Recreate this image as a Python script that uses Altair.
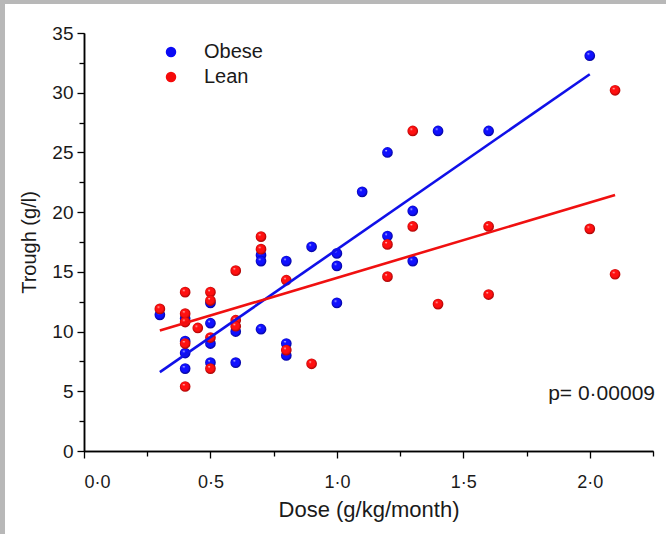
import altair as alt
import pandas as pd

# ---- data ----
obese_dose = [0.3, 0.4, 0.4, 0.4, 0.4, 0.5, 0.5, 0.5, 0.5, 0.6, 0.6, 0.7, 0.7, 0.7,
              0.8, 0.8, 0.8, 0.9, 1.0, 1.0, 1.0, 1.1, 1.2, 1.2, 1.3, 1.3, 1.4, 1.6, 2.0]
obese_trough = [11.4, 11.1, 9.2, 8.2, 6.9, 12.4, 10.7, 9.0, 7.4, 10.0, 7.4, 16.4, 15.9, 10.2,
                15.9, 9.0, 8.0, 17.1, 16.55, 15.5, 12.4, 21.7, 25.0, 18.0, 20.1, 15.9, 26.8, 26.8, 33.1]
lean_dose = [0.3, 0.4, 0.4, 0.4, 0.4, 0.4, 0.45, 0.5, 0.5, 0.5, 0.5, 0.6, 0.6, 0.6,
             0.7, 0.7, 0.8, 0.8, 0.9, 1.2, 1.2, 1.3, 1.3, 1.4, 1.6, 1.6, 2.0, 2.1, 2.1]
lean_trough = [11.9, 13.3, 11.5, 10.8, 9.0, 5.4, 10.3, 13.3, 12.6, 9.5, 6.9, 15.1, 10.95, 10.45,
               17.95, 16.9, 14.3, 8.45, 7.3, 17.3, 14.6, 26.8, 18.8, 12.3, 18.8, 13.1, 18.6, 30.2, 14.8]

fit_group = ["Obese", "Obese", "Lean", "Lean"]
fit_dose = [0.3, 2.0, 0.3, 2.1]
fit_trough = [6.6, 31.55, 10.08, 21.44]

groups = ["Obese", "Lean"]
colors = ["#0a0af5", "#f50a0a"]

x_major = [0, 0.5, 1.0, 1.5, 2.0]
x_minor = [0.25, 0.75, 1.25, 1.75, 2.25]
y_major = [0, 5, 10, 15, 20, 25, 30, 35]
y_minor = [2.5, 7.5, 12.5, 17.5, 22.5, 27.5, 32.5]
p_label = "p= 0·00009"

FONT = "Liberation Sans"

pts = pd.DataFrame({
    "dose": obese_dose + lean_dose,
    "trough": obese_trough + lean_trough,
    "group": ["Obese"] * len(obese_dose) + ["Lean"] * len(lean_dose),
})
obese_df = pd.DataFrame({"dose": obese_dose, "trough": obese_trough})
lean_df = pd.DataFrame({"dose": lean_dose, "trough": lean_trough})
fit = pd.DataFrame({"dose": fit_dose, "trough": fit_trough, "group": fit_group})

xscale = alt.Scale(domain=[0, 2.25], nice=False, zero=False)
yscale = alt.Scale(domain=[0, 35], nice=False, zero=False)

common_axis = dict(domainColor="black", domainWidth=1.5, tickColor="black",
                   tickWidth=1.3, grid=False, zindex=1, labelFont=FONT,
                   titleFont=FONT, labelColor="#1a1a1a", titleColor="#1a1a1a",
                   titleFontWeight="normal")

x_major_axis = alt.Axis(values=x_major, orient="bottom", tickSize=7,
                        labelExpr="replace(format(datum.value, '.1f'), '.', '·')",
                        labelFontSize=18, labelPadding=15,
                        title="Dose (g/kg/month)", titleFontSize=22, titlePadding=8,
                        **common_axis)
y_major_axis = alt.Axis(values=y_major, orient="left", tickSize=7,
                        labelFontSize=19, labelPadding=4, format="d",
                        title="Trough (g/l)", titleFontSize=20, titlePadding=12,
                        **common_axis)
x_minor_axis = alt.Axis(values=x_minor, orient="bottom", tickSize=5, labels=False,
                        title=None, **common_axis)
y_minor_axis = alt.Axis(values=y_minor, orient="left", tickSize=5, labels=False,
                        title=None, **common_axis)


def ball(color, dark):
    return alt.RadialGradient(
        gradient="radial", x1=0.36, y1=0.3, r1=0.0, x2=0.5, y2=0.5, r2=0.55,
        stops=[alt.GradientStop(offset=0.0, color="#ffffff"),
               alt.GradientStop(offset=0.22, color=color),
               alt.GradientStop(offset=0.65, color=color),
               alt.GradientStop(offset=1.0, color=dark)])


# white page area over gray frame
bg = alt.Chart(pd.DataFrame({"k": [0]})).mark_rect(color="white").encode(
    x=alt.value(-79), x2=alt.value(582), y=alt.value(-29), y2=alt.value(501))

# invisible layer carrying major axes and legend
legend_layer = alt.Chart(pts).mark_circle(size=110, opacity=0).encode(
    x=alt.X("dose:Q", scale=xscale, axis=x_major_axis),
    y=alt.Y("trough:Q", scale=yscale, axis=y_major_axis),
    color=alt.Color("group:N", scale=alt.Scale(domain=groups, range=colors),
                    legend=alt.Legend(title=None, orient="none", legendX=77, legendY=9,
                                      symbolType="circle", symbolSize=110,
                                      symbolOpacity=1, symbolStrokeWidth=0,
                                      labelFont=FONT, labelFontSize=20,
                                      labelColor="#1a1a1a", labelOffset=23,
                                      rowPadding=5, padding=0)),
)

obese_layer = alt.Chart(obese_df).mark_circle(
    size=115, opacity=1, fill=ball("#1010ff", "#00007a")).encode(
    x=alt.X("dose:Q", scale=xscale, axis=None),
    y=alt.Y("trough:Q", scale=yscale, axis=None),
)
lean_layer = alt.Chart(lean_df).mark_circle(
    size=115, opacity=1, fill=ball("#ff1010", "#8a0000")).encode(
    x=alt.X("dose:Q", scale=xscale, axis=None),
    y=alt.Y("trough:Q", scale=yscale, axis=None),
)

lines = alt.Chart(fit).mark_line(strokeWidth=2.6).encode(
    x=alt.X("dose:Q", scale=xscale, axis=x_minor_axis),
    y=alt.Y("trough:Q", scale=yscale, axis=y_minor_axis),
    detail="group:N",
    stroke=alt.Stroke("group:N", scale=alt.Scale(domain=groups, range=["#1010e8", "#f01010"]),
                      legend=None),
)

ptext = alt.Chart(pd.DataFrame({"t": [p_label]})).mark_text(
    align="right", baseline="alphabetic", font=FONT, fontSize=21, color="#1a1a1a").encode(
    text="t:N", x=alt.value(571), y=alt.value(367))

chart = alt.layer(bg, legend_layer, obese_layer, lean_layer, lines, ptext).resolve_axis(
    x="independent", y="independent"
).properties(
    width=569, height=418,
    autosize=alt.AutoSizeParams(type="none"),
    padding={"left": 84, "top": 33, "right": 13, "bottom": 83},
    background="#b8b8b8",
).configure_view(stroke=None)

chart.save("out.html", embed_options={"renderer": "svg", "actions": False})
